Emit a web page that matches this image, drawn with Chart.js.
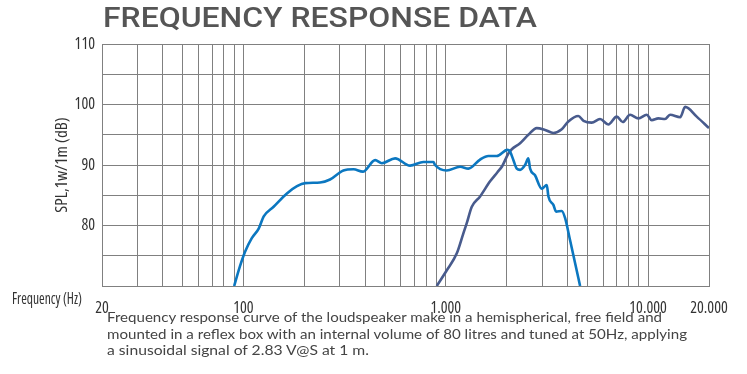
<!DOCTYPE html>
<html>
<head>
<meta charset="utf-8">
<script src="https://cdn.jsdelivr.net/npm/chart.js@4.4.0/dist/chart.umd.min.js"></script>
<style>
body { margin: 0; background: #fff; }
#box { position: relative; width: 747px; height: 374px; overflow: hidden; }
#box canvas { position: absolute; left: 0; top: 0; }
.txt { position: absolute; white-space: pre; transform-origin: 0 0; }
#titulo { left: 103px; top: 4.6px; font: 500 27.4px/27.4px "Roboto"; color: #555; }
#freq { left: 12px; top: 289px; font: 17px/17px "Open Sans"; font-stretch: 75%; color: #333; }
.cap { left: 107px; font: 14px/14px "Lato"; color: #444; }
</style>
</head>
<body>
<div id="box">
	<canvas id="chart-area" width="747" height="374"></canvas>
	<div id="titulo" class="txt" data-w="434">FREQUENCY RESPONSE DATA</div>
	<div id="freq" class="txt" data-w="70">Frequency (Hz)</div>
	<div class="txt cap" style="top:310px" data-w="555">Frequency response curve of the loudspeaker make in a hemispherical, free field and</div>
	<div class="txt cap" style="top:326.6px" data-w="580">mounted in a reflex box with an internal volume of 80 litres and tuned at 50Hz, applying</div>
	<div class="txt cap" style="top:343.3px" data-w="262">a sinusoidal signal of 2.83 V@S at 1 m.</div>
</div>
<script>
// valores (Hz / dB)
var wooferFreq = [90, 96, 102, 110, 119, 126, 141, 164, 184, 202, 239, 268, 312, 350, 389, 448, 483, 562, 666, 775, 869, 885, 1011, 1177, 1294, 1478, 1624, 1787, 2016, 2080, 2160, 2244, 2330, 2466, 2560, 2611, 2762, 2980, 3157, 3216, 3404, 3510, 3743, 3890, 4113, 4356, 4613];
var wooferSpl = [70, 73.2, 75.7, 77.9, 79.5, 81.5, 83.1, 85.3, 86.5, 87.0, 87.1, 87.6, 89.1, 89.3, 88.9, 90.8, 90.3, 91.1, 89.9, 90.5, 90.5, 90.0, 89.1, 89.7, 89.4, 90.9, 91.5, 91.5, 92.5, 92.2, 90.8, 89.4, 89.2, 90.0, 91.1, 89.4, 88.3, 86.1, 86.7, 84.8, 83.4, 82.3, 82.4, 81.2, 77.6, 73.8, 70];

var tweeterFreq = [903, 1012, 1134, 1222, 1270, 1345, 1478, 1656, 1800, 1900, 2039, 2120, 2330, 2560, 2816, 3096, 3404, 3743, 4036, 4520, 4797, 5265, 5786, 6362, 6998, 7494, 8147, 8955, 9845, 10420, 11240, 12130, 12840, 14410, 15240, 17390, 20000];
var tweeterSpl = [70, 72.6, 75.4, 78.7, 80.4, 83.1, 84.8, 87.3, 88.8, 89.8, 91.9, 92.6, 93.6, 95.0, 96.1, 95.8, 95.3, 95.9, 97.2, 98.1, 97.3, 97.0, 97.6, 96.7, 98.0, 97.1, 98.3, 97.7, 98.3, 97.4, 97.7, 97.6, 98.3, 97.9, 99.6, 98.0, 96.1];

var xTickValues = [20, 100, 1000, 10000, 20000];
var xTickLabels = ['20', '100', '1.000', '10.000', '20.000'];
var yTickValues = [80, 90, 100, 110];

var toPoints = function (freqs, spls) {
	return freqs.map(function (f, i) { return { x: f, y: spls[i] }; });
};

// linhas de grade 1..9 por decada
var gridFreqs = [];
[10, 100, 1000, 10000].forEach(function (d) {
	for (var m = 1; m <= 9; m++) {
		if (d * m >= 20 && d * m <= 20000) gridFreqs.push(d * m);
	}
});

// "condensed" vai na posicao do weight para o Chart.js montar a string da fonte
var axisFont = { family: '"Open Sans"', weight: 'condensed', size: 16 };

var ctx = document.getElementById('chart-area').getContext('2d');
var config = {
	type: 'line',
	data: {
		datasets: [{
			label: 'woofer',
			data: toPoints(wooferFreq, wooferSpl),
			borderColor: '#0b77c0',
			borderWidth: 2.6,
			pointRadius: 0,
			cubicInterpolationMode: 'monotone'
		}, {
			label: 'tweeter',
			data: toPoints(tweeterFreq, tweeterSpl),
			borderColor: '#485b8d',
			borderWidth: 2.6,
			pointRadius: 0,
			cubicInterpolationMode: 'monotone'
		}]
	},
	options: {
		responsive: false,
		animation: false,
		devicePixelRatio: 1,
		layout: { padding: { left: 0, right: 38, top: 44, bottom: 58 } },
		plugins: {
			legend: { display: false },
			tooltip: { enabled: false }
		},
		scales: {
			x: {
				type: 'logarithmic',
				min: 20,
				max: 20000,
				afterBuildTicks: function (axis) {
					axis.ticks = gridFreqs.map(function (v) { return { value: v }; });
				},
				afterFit: function (scale) { scale.height = 30; },
				grid: { color: '#808080', lineWidth: 1, drawTicks: false },
				border: { color: '#808080', width: 1 },
				ticks: {
					autoSkip: false,
					maxRotation: 0,
					padding: 13,
					color: '#333',
					font: axisFont,
					callback: function (value) {
						var k = xTickValues.indexOf(value);
						return k >= 0 ? xTickLabels[k] : '';
					}
				}
			},
			y: {
				min: 70,
				max: 110,
				afterFit: function (scale) { scale.width = 102; },
				grid: { color: '#808080', lineWidth: 1, drawTicks: false },
				border: { color: '#808080', width: 1 },
				title: {
					display: true,
					text: 'SPL,1w/1m (dB)',
					color: '#333',
					font: { family: '"Open Sans"', weight: 'condensed', size: 17 },
					padding: { top: 52, bottom: 0 }
				},
				ticks: {
					stepSize: 5,
					padding: 7,
					color: '#333',
					font: axisFont,
					callback: function (value) {
						return yTickValues.indexOf(value) >= 0 ? String(value) : '';
					}
				}
			}
		}
	}
};
window.myChart = new Chart(ctx, config);

// ajusta a largura dos textos ao original
document.querySelectorAll('.txt').forEach(function (el) {
	var alvo = parseFloat(el.dataset.w);
	var w = el.getBoundingClientRect().width;
	el.style.transform = 'scaleX(' + (alvo / w) + ')';
});
</script>
</body>
</html>
